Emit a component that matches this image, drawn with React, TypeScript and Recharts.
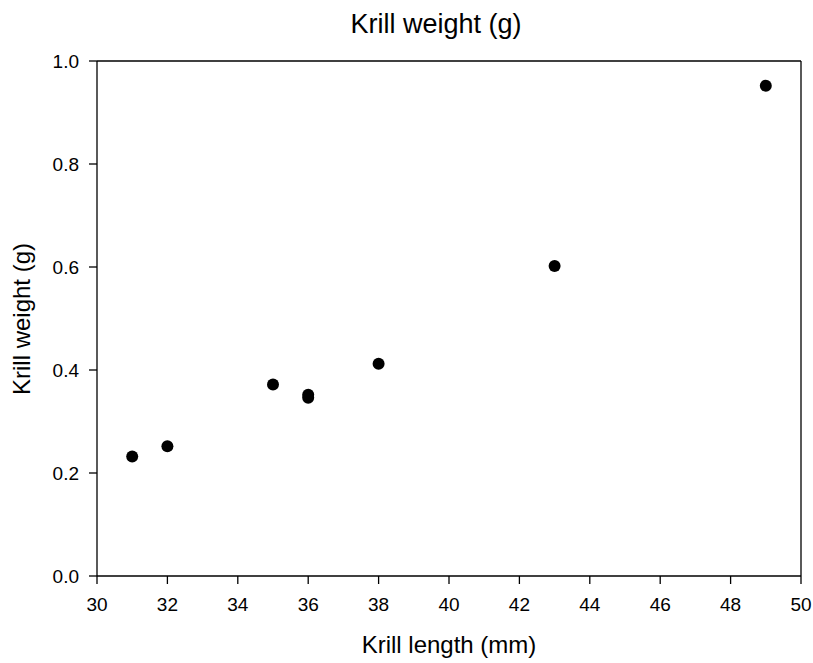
import React from "react";
import { ScatterChart, Scatter, XAxis, YAxis, ReferenceLine } from "recharts";

const lengths = [31, 32, 35, 36, 36, 38, 43, 49];
const weights = [0.232, 0.252, 0.372, 0.352, 0.346, 0.412, 0.602, 0.952];
const xTicks = [30, 32, 34, 36, 38, 40, 42, 44, 46, 48, 50];
const yTicks = [0, 0.2, 0.4, 0.6, 0.8, 1.0];
const title = "Krill weight (g)";
const xLabel = "Krill length (mm)";
const yLabel = "Krill weight (g)";

const data = lengths.map((x, i) => ({ x, y: weights[i] }));
const FONT = "'Liberation Sans', Arial, sans-serif";

const Dot = (props: any) => <circle cx={props.cx} cy={props.cy} r={6} fill="#000" />;

export default function App() {
  return (
    <div style={{ position: "absolute", left: 0, top: 0, width: 813, height: 663, background: "#fff", fontFamily: FONT }}>
      <ScatterChart width={813} height={663} margin={{ top: 61, right: 12, bottom: 0, left: 0 }}>
        <XAxis
          type="number"
          dataKey="x"
          domain={[30, 50]}
          ticks={xTicks}
          height={87}
          tickSize={8}
          tickMargin={14}
          axisLine={{ stroke: "#000", strokeWidth: 1.3 }}
          tickLine={{ stroke: "#000", strokeWidth: 1.3 }}
          tick={{ fill: "#000", fontSize: 19, fontFamily: FONT }}
          allowDataOverflow
        />
        <YAxis
          type="number"
          dataKey="y"
          domain={[0, 1]}
          ticks={yTicks}
          width={97}
          tickSize={8}
          tickMargin={10}
          tickFormatter={(v: number) => v.toFixed(1)}
          axisLine={{ stroke: "#000", strokeWidth: 1.3 }}
          tickLine={{ stroke: "#000", strokeWidth: 1.3 }}
          tick={{ fill: "#000", fontSize: 19, fontFamily: FONT }}
          allowDataOverflow
        />
        <ReferenceLine y={1} stroke="#000" strokeWidth={1.3} />
        <ReferenceLine x={50} stroke="#000" strokeWidth={1.3} />
        <Scatter data={data} shape={Dot} isAnimationActive={false} />
      </ScatterChart>
      <svg width={813} height={663} style={{ position: "absolute", left: 0, top: 0, pointerEvents: "none" }}>
        <text x={436} y={33} textAnchor="middle" fontSize={27} fontFamily={FONT} fill="#000">{title}</text>
        <text x={449} y={653} textAnchor="middle" fontSize={24} fontFamily={FONT} fill="#000">{xLabel}</text>
        <text x={30} y={319} textAnchor="middle" fontSize={24} fontFamily={FONT} fill="#000" transform="rotate(-90 30 319)">{yLabel}</text>
      </svg>
    </div>
  );
}
